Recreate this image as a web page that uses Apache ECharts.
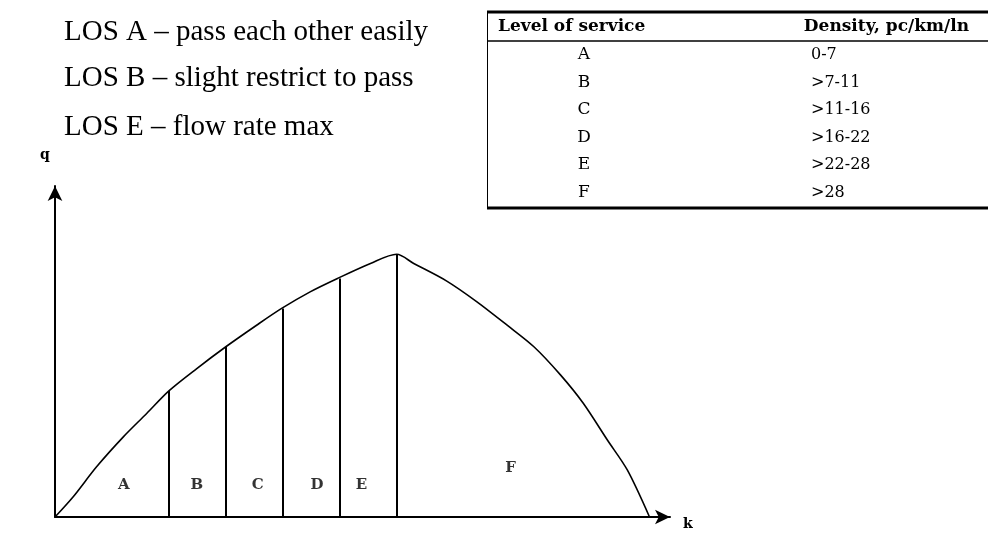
<!DOCTYPE html>
<html>
<head>
<meta charset="utf-8">
<script src="https://cdn.jsdelivr.net/npm/echarts@6/dist/echarts.min.js"></script>
<style>
  html, body { margin: 0; padding: 0; background: #fff; }
  #main { width: 988px; height: 538px; }
</style>
</head>
<body>
<div id="main"></div>
<script>
// flow (q) vs density (k) curve
var kValues = [0, 3.2, 7.3, 12.0, 16.1, 20.0, 24.9, 30.0, 35.4, 39.8, 44.8, 49.6, 55.4, 60.0,
  63.0, 68.8, 74.1, 79.4, 84.1, 88.8, 92.8, 97.0, 100.5, 104.4];
var qValues = [0, 7.7, 19.1, 30.5, 39.4, 48.0, 56.5, 64.8, 73.0, 79.4, 85.7, 90.8, 96.5, 100,
  96.5, 89.8, 81.9, 73.0, 64.8, 54.0, 43.2, 29.3, 17.9, 0];

// vertical dividers between LOS zones
var boundaryK = [20, 30, 40, 50, 60];
var boundaryQ = [48.0, 64.8, 79.4, 90.8, 100];

// zone letters under the curve
var regionNames = ['A', 'B', 'C', 'D', 'E', 'F'];
var regionLabelK = [12.1, 24.9, 35.6, 46.0, 53.8, 80.0];
var regionLabelQ = [12.2, 12.2, 12.2, 12.2, 12.2, 18.6];

// notes and table text
var losNotes = ['LOS A \u2013 pass each other easily', 'LOS B \u2013 slight restrict to pass', 'LOS E \u2013 flow rate max'];
var tableHeader = ['Level of service', 'Density, pc/km/ln'];
var losLevels = ['A', 'B', 'C', 'D', 'E', 'F'];
var densityRanges = ['0-7', '>7-11', '>11-16', '>16-22', '>22-28', '>28'];

var chartDom = document.getElementById('main');
var myChart = echarts.init(chartDom);
var option;

var curveData = kValues.map(function (k, i) { return [k, qValues[i]]; });
var dividerLines = boundaryK.map(function (k, i) {
  return [{ coord: [k, 0] }, { coord: [k, boundaryQ[i]] }];
});
var labelData = regionNames.map(function (n, i) { return [regionLabelK[i], regionLabelQ[i], n]; });

var graphics = [];
var noteY = [32, 78, 127];
losNotes.forEach(function (t, i) {
  graphics.push({
    type: 'text', x: 64, y: noteY[i],
    style: { text: t, fontFamily: '"Liberation Serif"', fontSize: 29, fill: '#000', verticalAlign: 'middle' }
  });
});

// table lines
graphics.push({ type: 'line', shape: { x1: 487, y1: 12, x2: 988, y2: 12 }, style: { stroke: '#000', lineWidth: 3 } });
graphics.push({ type: 'line', shape: { x1: 487, y1: 41, x2: 988, y2: 41 }, style: { stroke: '#000', lineWidth: 1.5 } });
graphics.push({ type: 'line', shape: { x1: 487, y1: 208, x2: 988, y2: 208 }, style: { stroke: '#000', lineWidth: 3 } });
graphics.push({ type: 'line', shape: { x1: 487.5, y1: 12, x2: 487.5, y2: 208 }, style: { stroke: '#000', lineWidth: 1 } });

graphics.push({
  type: 'text', x: 498, y: 27,
  style: { text: tableHeader[0], fontFamily: '"DejaVu Serif"', fontWeight: 'bold', fontSize: 17, fill: '#000', verticalAlign: 'middle' }
});
graphics.push({
  type: 'text', x: 969, y: 27,
  style: { text: tableHeader[1], fontFamily: '"DejaVu Serif"', fontWeight: 'bold', fontSize: 17, fill: '#000', align: 'right', verticalAlign: 'middle' }
});
losLevels.forEach(function (l, i) {
  var y = 55 + i * 27.5;
  graphics.push({
    type: 'text', x: 584, y: y,
    style: { text: l, fontFamily: '"DejaVu Serif"', fontSize: 17, fill: '#000', align: 'center', verticalAlign: 'middle' }
  });
  graphics.push({
    type: 'text', x: 811, y: y,
    style: { text: densityRanges[i], fontFamily: '"DejaVu Serif"', fontSize: 16, fill: '#000', verticalAlign: 'middle' }
  });
});

option = {
  animation: false,
  backgroundColor: '#fff',
  grid: { left: 55, top: 186, width: 615, height: 331 },
  xAxis: {
    type: 'value', min: 0, max: 108,
    name: 'k', nameLocation: 'end', nameGap: 13,
    nameTextStyle: { fontFamily: '"DejaVu Serif"', fontSize: 14, fontWeight: 'bold', color: '#000', verticalAlign: 'top' },
    axisLine: { lineStyle: { color: '#000', width: 2 }, symbol: ['none', 'arrow'], symbolSize: [11, 15] },
    axisTick: { show: false }, axisLabel: { show: false }, splitLine: { show: false }
  },
  yAxis: {
    type: 'value', min: 0, max: 126,
    name: 'q', nameLocation: 'end', nameGap: 24,
    nameTextStyle: { fontFamily: '"DejaVu Serif"', fontSize: 14, fontWeight: 'bold', color: '#000', align: 'center', padding: [0, 20, 0, 0] },
    axisLine: { lineStyle: { color: '#000', width: 2 }, symbol: ['none', 'arrow'], symbolSize: [11, 15] },
    axisTick: { show: false }, axisLabel: { show: false }, splitLine: { show: false }
  },
  series: [
    {
      type: 'line',
      data: curveData,
      smooth: 0.3,
      showSymbol: false,
      lineStyle: { color: '#000', width: 1.6 },
      markLine: {
        silent: true,
        symbol: ['none', 'none'],
        label: { show: false },
        lineStyle: { color: '#000', width: 2, type: 'solid' },
        data: dividerLines
      }
    },
    {
      type: 'scatter',
      data: labelData,
      symbolSize: 0,
      silent: true,
      label: {
        show: true, position: 'inside',
        formatter: function (p) { return p.data[2]; },
        fontFamily: '"DejaVu Serif"', fontSize: 15, fontWeight: 'bold', color: '#000'
      }
    }
  ],
  graphic: graphics
};

option && myChart.setOption(option);

window.addEventListener('resize', myChart.resize);
</script>
</body>
</html>
